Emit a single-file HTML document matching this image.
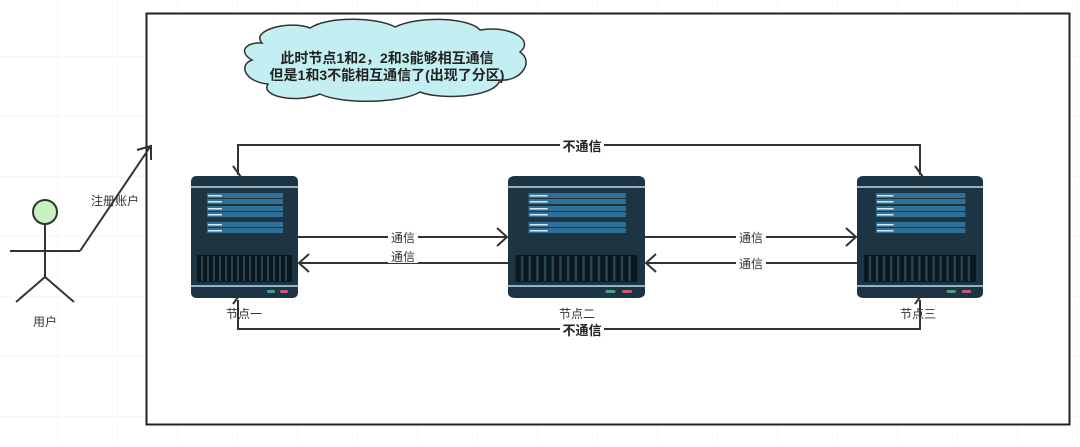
<!DOCTYPE html>
<html><head><meta charset="utf-8"><style>
html,body{margin:0;padding:0;background:#fff;}
body{width:1080px;height:442px;overflow:hidden;}
text{font-family:"Liberation Sans","Noto Sans CJK SC",sans-serif;}
</style></head><body>
<svg width="1080" height="442" viewBox="0 0 1080 442" xmlns="http://www.w3.org/2000/svg">
<defs>
<pattern id="g" width="60" height="60" patternUnits="userSpaceOnUse" x="-2" y="-3">
<path d="M60 0V60M0 60H60" fill="none" stroke="#f0f0f0" stroke-width="1"/>
</pattern>
<symbol id="srv" viewBox="0 0 107 122" preserveAspectRatio="none">
<rect x="0" y="0" width="107" height="122" rx="5" fill="#1d3442"/>
<rect x="0" y="10" width="107" height="2" fill="#8fb3c0"/>
<rect x="16" y="17" width="76" height="5" fill="#2f6f98"/>
<rect x="16" y="23" width="76" height="5" fill="#2f6f98"/>
<rect x="16" y="30" width="76" height="5" fill="#2f6f98"/>
<rect x="16" y="36" width="76" height="5" fill="#2f6f98"/>
<rect x="16" y="46" width="76" height="5" fill="#2f6f98"/>
<rect x="16" y="52" width="76" height="5" fill="#2f6f98"/>
<g fill="#d9e8f0"><rect x="17" y="19" width="14" height="1.5"/><rect x="17" y="25" width="14" height="1.5"/><rect x="17" y="32" width="14" height="1.5"/><rect x="17" y="38" width="14" height="1.5"/><rect x="17" y="48" width="14" height="1.5"/><rect x="17" y="54" width="14" height="1.5"/></g>
<rect x="6" y="79" width="95" height="27" fill="#0c1820"/>
<g stroke="#2a4452" stroke-width="2">
<path d="M11 80V105M17 80V105M23 80V105M29 80V105M35 80V105M41 80V105M47 80V105M53 80V105M59 80V105M65 80V105M71 80V105M77 80V105M83 80V105M89 80V105M95 80V105"/></g>
<rect x="0" y="109" width="107" height="2" fill="#8fb3c0"/>
<rect x="76" y="114" width="8" height="3" rx="1.5" fill="#4f9a8a"/>
<rect x="89" y="114" width="8" height="3" rx="1.5" fill="#c45c78"/>
</symbol>
</defs>
<rect width="1080" height="442" fill="url(#g)"/>
<rect x="146.5" y="13.5" width="923" height="411" fill="#fff" stroke="#222" stroke-width="2"/>
<path d="M262 43 C250 30 290 20 310 28 C330 15 380 18 395 27 C420 15 470 18 480 30 C510 25 535 40 520 52 C535 62 520 82 500 80 C495 98 440 100 420 92 C400 104 340 104 320 94 C295 104 260 96 268 84 C245 82 238 65 252 60 C238 52 245 42 262 43 Z" fill="#c4eff2" stroke="#333" stroke-width="1.5"/>
<text x="387" y="63" font-size="14" font-weight="bold" text-anchor="middle" fill="#222">此时节点1和2，2和3能够相互通信</text>
<text x="387" y="80" font-size="14" font-weight="bold" text-anchor="middle" fill="#222">但是1和3不能相互通信了(出现了分区)</text>
<circle cx="45" cy="212" r="12" fill="#c8f0c0" stroke="#333" stroke-width="2"/>
<g stroke="#333" stroke-width="2" fill="none">
<path d="M45 224V277M10 251H80M45 277L16 302M45 277L74 302"/>
<path d="M80 251L150 147M137 150L151 146L151 160"/>
</g>
<text x="45" y="326" font-size="12" text-anchor="middle" fill="#333">用户</text>
<text x="115" y="205" font-size="12" text-anchor="middle" fill="#333">注册账户</text>
<use href="#srv" x="191" y="176" width="107" height="122"/>
<use href="#srv" x="508" y="176" width="137" height="122"/>
<use href="#srv" x="857" y="176" width="126" height="122"/>
<g stroke="#333" stroke-width="2" fill="none">
<path d="M238 175V145H920V175"/>
<path d="M233 166L241 177M915 166L923 177"/>
<path d="M238 300V329H920V300"/>
<path d="M233 304L241 293M915 304L923 293"/>
<path d="M298 237H507M497 228L507 237L497 246"/>
<path d="M508 263H299M309 254L299 263L309 272"/>
<path d="M645 237H856M846 228L856 237L846 246"/>
<path d="M857 263H646M656 254L646 263L656 272"/>
</g>
<g font-size="12" fill="#333" text-anchor="middle">
<rect x="388" y="230" width="30" height="14" fill="#fff"/><text x="403" y="242">通信</text>
<rect x="388" y="249" width="30" height="14" fill="#fff"/><text x="403" y="261">通信</text>
<rect x="736" y="230" width="30" height="14" fill="#fff"/><text x="751" y="242">通信</text>
<rect x="736" y="256" width="30" height="14" fill="#fff"/><text x="751" y="268">通信</text>
<text x="244" y="318">节点一</text>
<text x="577" y="318">节点二</text>
<text x="918" y="318">节点三</text>
</g>
<g font-size="13" font-weight="bold" fill="#222" text-anchor="middle">
<rect x="560" y="138" width="44" height="15" fill="#fff"/><text x="582" y="151">不通信</text>
<rect x="560" y="322" width="44" height="15" fill="#fff"/><text x="582" y="335">不通信</text>
</g>
</svg>
</body></html>
